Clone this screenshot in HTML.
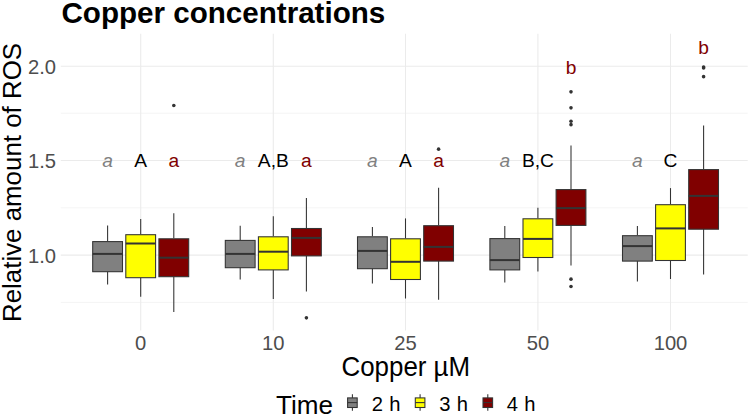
<!DOCTYPE html>
<html lang="en"><head><meta charset="utf-8"><title>Copper concentrations</title>
<style>html,body{margin:0;padding:0;background:#fff;}body{width:749px;height:416px;overflow:hidden;}svg{display:block;}</style>
</head><body>
<svg width="749" height="416" viewBox="0 0 749 416" font-family="'Liberation Sans', Arial, sans-serif">
<rect width="749" height="416" fill="#fff"/>
<g stroke="#ebebeb" fill="none">
<line x1="60.8" x2="747.7" y1="113.2" y2="113.2" stroke-width="0.55"/>
<line x1="60.8" x2="747.7" y1="207.8" y2="207.8" stroke-width="0.55"/>
<line x1="60.8" x2="747.7" y1="302.4" y2="302.4" stroke-width="0.55"/>
<line x1="60.8" x2="747.7" y1="66.3" y2="66.3" stroke-width="1.07"/>
<line x1="60.8" x2="747.7" y1="160.5" y2="160.5" stroke-width="1.07"/>
<line x1="60.8" x2="747.7" y1="255.1" y2="255.1" stroke-width="1.07"/>
<line x1="140.7" x2="140.7" y1="33.8" y2="330.6" stroke-width="1.07"/>
<line x1="273.3" x2="273.3" y1="33.8" y2="330.6" stroke-width="1.07"/>
<line x1="405.5" x2="405.5" y1="33.8" y2="330.6" stroke-width="1.07"/>
<line x1="537.9" x2="537.9" y1="33.8" y2="330.6" stroke-width="1.07"/>
<line x1="670.5" x2="670.5" y1="33.8" y2="330.6" stroke-width="1.07"/>
</g>
<g stroke="#333333" stroke-width="1.07">
<line x1="107.6" x2="107.6" y1="225.4" y2="241.1"/>
<line x1="107.6" x2="107.6" y1="271.5" y2="284.6"/>
<rect x="92.7" y="241.6" width="29.8" height="30.1" fill="#808080"/>
<line x1="92.7" x2="122.5" y1="253.9" y2="253.9" stroke-width="2.0"/>
</g>
<g stroke="#333333" stroke-width="1.07">
<line x1="140.7" x2="140.7" y1="219.0" y2="234.2"/>
<line x1="140.7" x2="140.7" y1="277.5" y2="296.7"/>
<rect x="125.8" y="234.7" width="29.8" height="43.0" fill="#FFFF00"/>
<line x1="125.8" x2="155.6" y1="243.5" y2="243.5" stroke-width="2.0"/>
</g>
<g stroke="#333333" stroke-width="1.07">
<line x1="173.8" x2="173.8" y1="213.2" y2="238.3"/>
<line x1="173.8" x2="173.8" y1="276.5" y2="312.1"/>
<rect x="158.9" y="238.8" width="29.8" height="37.9" fill="#800000"/>
<line x1="158.9" x2="188.7" y1="257.7" y2="257.7" stroke-width="2.0"/>
</g>
<circle cx="173.8" cy="105.55" r="1.8" fill="#333333"/>
<g stroke="#333333" stroke-width="1.07">
<line x1="240.2" x2="240.2" y1="225.8" y2="239.9"/>
<line x1="240.2" x2="240.2" y1="267.5" y2="279.6"/>
<rect x="225.3" y="240.4" width="29.8" height="27.3" fill="#808080"/>
<line x1="225.3" x2="255.1" y1="253.9" y2="253.9" stroke-width="2.0"/>
</g>
<g stroke="#333333" stroke-width="1.07">
<line x1="273.3" x2="273.3" y1="216.2" y2="236.3"/>
<line x1="273.3" x2="273.3" y1="269.7" y2="299.1"/>
<rect x="258.4" y="236.8" width="29.8" height="33.1" fill="#FFFF00"/>
<line x1="258.4" x2="288.2" y1="251.7" y2="251.7" stroke-width="2.0"/>
</g>
<g stroke="#333333" stroke-width="1.07">
<line x1="306.4" x2="306.4" y1="198.1" y2="228.0"/>
<line x1="306.4" x2="306.4" y1="255.7" y2="291.4"/>
<rect x="291.5" y="228.5" width="29.8" height="27.4" fill="#800000"/>
<line x1="291.5" x2="321.3" y1="237.9" y2="237.9" stroke-width="2.0"/>
</g>
<circle cx="306.4" cy="317.85" r="1.8" fill="#333333"/>
<g stroke="#333333" stroke-width="1.07">
<line x1="372.4" x2="372.4" y1="227.0" y2="236.3"/>
<line x1="372.4" x2="372.4" y1="268.5" y2="283.6"/>
<rect x="357.5" y="236.8" width="29.8" height="31.9" fill="#808080"/>
<line x1="357.5" x2="387.3" y1="250.9" y2="250.9" stroke-width="2.0"/>
</g>
<g stroke="#333333" stroke-width="1.07">
<line x1="405.5" x2="405.5" y1="218.4" y2="238.3"/>
<line x1="405.5" x2="405.5" y1="279.3" y2="298.5"/>
<rect x="390.6" y="238.8" width="29.8" height="40.7" fill="#FFFF00"/>
<line x1="390.6" x2="420.4" y1="261.8" y2="261.8" stroke-width="2.0"/>
</g>
<g stroke="#333333" stroke-width="1.07">
<line x1="438.6" x2="438.6" y1="187.7" y2="225.2"/>
<line x1="438.6" x2="438.6" y1="260.9" y2="299.7"/>
<rect x="423.7" y="225.7" width="29.8" height="35.4" fill="#800000"/>
<line x1="423.7" x2="453.5" y1="246.9" y2="246.9" stroke-width="2.0"/>
</g>
<circle cx="438.6" cy="149.15" r="1.8" fill="#333333"/>
<g stroke="#333333" stroke-width="1.07">
<line x1="504.8" x2="504.8" y1="226.0" y2="238.1"/>
<line x1="504.8" x2="504.8" y1="269.7" y2="282.6"/>
<rect x="489.9" y="238.6" width="29.8" height="31.3" fill="#808080"/>
<line x1="489.9" x2="519.7" y1="260.1" y2="260.1" stroke-width="2.0"/>
</g>
<g stroke="#333333" stroke-width="1.07">
<line x1="537.9" x2="537.9" y1="207.8" y2="218.3"/>
<line x1="537.9" x2="537.9" y1="257.3" y2="271.6"/>
<rect x="523.0" y="218.8" width="29.8" height="38.7" fill="#FFFF00"/>
<line x1="523.0" x2="552.8" y1="238.9" y2="238.9" stroke-width="2.0"/>
</g>
<g stroke="#333333" stroke-width="1.07">
<line x1="571.0" x2="571.0" y1="145.4" y2="189.1"/>
<line x1="571.0" x2="571.0" y1="225.2" y2="265.5"/>
<rect x="556.1" y="189.6" width="29.8" height="35.8" fill="#800000"/>
<line x1="556.1" x2="585.9" y1="208.1" y2="208.1" stroke-width="2.0"/>
</g>
<circle cx="571.0" cy="91.85" r="1.8" fill="#333333"/>
<circle cx="571.0" cy="107.85" r="1.8" fill="#333333"/>
<circle cx="571.0" cy="121.25" r="1.8" fill="#333333"/>
<circle cx="571.0" cy="124.65" r="1.8" fill="#333333"/>
<circle cx="571.0" cy="279.15" r="1.8" fill="#333333"/>
<circle cx="571.0" cy="286.55" r="1.8" fill="#333333"/>
<g stroke="#333333" stroke-width="1.07">
<line x1="637.4" x2="637.4" y1="226.0" y2="235.2"/>
<line x1="637.4" x2="637.4" y1="260.9" y2="281.4"/>
<rect x="622.5" y="235.7" width="29.8" height="25.4" fill="#808080"/>
<line x1="622.5" x2="652.3" y1="246.1" y2="246.1" stroke-width="2.0"/>
</g>
<g stroke="#333333" stroke-width="1.07">
<line x1="670.5" x2="670.5" y1="188.1" y2="204.2"/>
<line x1="670.5" x2="670.5" y1="260.3" y2="279.0"/>
<rect x="655.6" y="204.7" width="29.8" height="55.8" fill="#FFFF00"/>
<line x1="655.6" x2="685.4" y1="228.4" y2="228.4" stroke-width="2.0"/>
</g>
<g stroke="#333333" stroke-width="1.07">
<line x1="703.6" x2="703.6" y1="125.4" y2="169.1"/>
<line x1="703.6" x2="703.6" y1="229.0" y2="274.4"/>
<rect x="688.7" y="169.6" width="29.8" height="59.6" fill="#800000"/>
<line x1="688.7" x2="718.5" y1="195.9" y2="195.9" stroke-width="2.0"/>
</g>
<circle cx="703.6" cy="66.95" r="1.8" fill="#333333"/>
<circle cx="703.6" cy="68.05" r="1.8" fill="#333333"/>
<circle cx="703.6" cy="76.65" r="1.8" fill="#333333"/>
<text x="107.6" y="167.4" text-anchor="middle" font-size="19.2" fill="#808080" font-style="italic">a</text>
<text x="140.7" y="167.4" text-anchor="middle" font-size="19.2" fill="#000">A</text>
<text x="173.8" y="167.4" text-anchor="middle" font-size="19.2" fill="#800000">a</text>
<text x="240.2" y="167.4" text-anchor="middle" font-size="19.2" fill="#808080" font-style="italic">a</text>
<text x="273.3" y="167.4" text-anchor="middle" font-size="19.2" fill="#000">A,B</text>
<text x="306.4" y="167.4" text-anchor="middle" font-size="19.2" fill="#800000">a</text>
<text x="372.4" y="167.4" text-anchor="middle" font-size="19.2" fill="#808080" font-style="italic">a</text>
<text x="405.5" y="167.4" text-anchor="middle" font-size="19.2" fill="#000">A</text>
<text x="438.6" y="167.4" text-anchor="middle" font-size="19.2" fill="#800000">a</text>
<text x="504.8" y="167.4" text-anchor="middle" font-size="19.2" fill="#808080" font-style="italic">a</text>
<text x="537.9" y="167.4" text-anchor="middle" font-size="19.2" fill="#000">B,C</text>
<text x="637.4" y="167.4" text-anchor="middle" font-size="19.2" fill="#808080" font-style="italic">a</text>
<text x="670.5" y="167.4" text-anchor="middle" font-size="19.2" fill="#000">C</text>
<text x="571.0" y="73.5" text-anchor="middle" font-size="19.2" fill="#800000">b</text>
<text x="703.6" y="54.4" text-anchor="middle" font-size="19.2" fill="#800000">b</text>
<text transform="translate(61.5,22.9) scale(1,1.02)" font-size="29.6" font-weight="bold" fill="#000">Copper concentrations</text>
<text transform="translate(56,74.1) scale(1,1.04)" text-anchor="end" font-size="20.2" fill="#4d4d4d">2.0</text>
<text transform="translate(56,168.3) scale(1,1.04)" text-anchor="end" font-size="20.2" fill="#4d4d4d">1.5</text>
<text transform="translate(56,262.9) scale(1,1.04)" text-anchor="end" font-size="20.2" fill="#4d4d4d">1.0</text>
<text transform="translate(140.7,349.8) scale(1,1.04)" text-anchor="middle" font-size="20.2" fill="#4d4d4d">0</text>
<text transform="translate(273.3,349.8) scale(1,1.04)" text-anchor="middle" font-size="20.2" fill="#4d4d4d">10</text>
<text transform="translate(405.5,349.8) scale(1,1.04)" text-anchor="middle" font-size="20.2" fill="#4d4d4d">25</text>
<text transform="translate(537.9,349.8) scale(1,1.04)" text-anchor="middle" font-size="20.2" fill="#4d4d4d">50</text>
<text transform="translate(670.5,349.8) scale(1,1.04)" text-anchor="middle" font-size="20.2" fill="#4d4d4d">100</text>
<text transform="translate(405.8,375.6) scale(1,1.04)" text-anchor="middle" font-size="25.9" fill="#000">Copper µM</text>
<text transform="translate(21.0,182.5) rotate(-90) scale(1,0.98)" text-anchor="middle" font-size="25.9" fill="#000">Relative amount of ROS</text>
<text x="276.1" y="414.1" font-size="26.1" fill="#000">Time</text>
<g stroke="#333333" stroke-width="1.07">
<line x1="352.4" x2="352.4" y1="394.3" y2="410.7"/>
<rect x="347.6" y="397.9" width="9.6" height="9.6" fill="#808080"/>
<line x1="347.6" x2="357.2" y1="402.6" y2="402.6"/>
</g>
<text x="371.8" y="410.6" word-spacing="0.5" font-size="20.2" fill="#000">2 h</text>
<g stroke="#333333" stroke-width="1.07">
<line x1="420.1" x2="420.1" y1="394.3" y2="410.7"/>
<rect x="415.3" y="397.9" width="9.6" height="9.6" fill="#FFFF00"/>
<line x1="415.3" x2="424.9" y1="402.6" y2="402.6"/>
</g>
<text x="439.3" y="410.6" word-spacing="0.5" font-size="20.2" fill="#000">3 h</text>
<g stroke="#333333" stroke-width="1.07">
<line x1="487.8" x2="487.8" y1="394.3" y2="410.7"/>
<rect x="483.0" y="397.9" width="9.6" height="9.6" fill="#800000"/>
<line x1="483.0" x2="492.6" y1="402.6" y2="402.6"/>
</g>
<text x="506.8" y="410.6" word-spacing="0.5" font-size="20.2" fill="#000">4 h</text>
</svg>
</body></html>
